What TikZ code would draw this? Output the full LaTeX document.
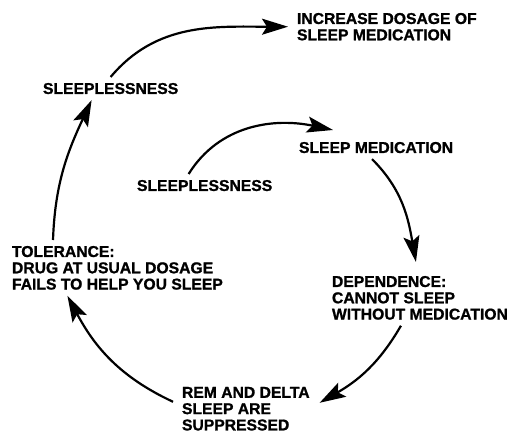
\documentclass[tikz,border=0pt]{standalone}
\usepackage{fontspec}
\setmainfont{Liberation Sans}[BoldFeatures={FakeBold=1.2}]
\usetikzlibrary{arrows.meta}

\begin{document}
\begin{tikzpicture}[x=1pt,y=-1pt,
    lbl/.style={font=\bfseries\fontsize{15.7}{16.3}\selectfont, align=left,
        anchor=north west, inner sep=0pt, outer sep=6pt},
    cyc/.style={line width=2.2pt, -{Stealth[length=26pt,width=16pt,inset=5pt]}}]

    \useasboundingbox (0,0) rectangle (511,433);

    %outer cycle labels:
    \node[lbl] (incr) at (291,7) {INCREASE DOSAGE OF\\SLEEP MEDICATION};
    \node[lbl] (sleepout) at (37,77) {SLEEPLESSNESS};
    \node[lbl] (toler) at (6,240) {TOLERANCE:\\DRUG AT USUAL DOSAGE\\FAILS TO HELP YOU SLEEP};
    %inner labels:
    \node[lbl] (sleepin) at (131,174) {SLEEPLESSNESS};
    \node[lbl] (medic) at (293,136) {SLEEP MEDICATION};
    \node[lbl] (depend) at (326,270) {DEPENDENCE:\\CANNOT SLEEP\\WITHOUT MEDICATION};
    \node[lbl] (rem) at (176,381) {REM AND DELTA\\SLEEP ARE\\SUPPRESSED};

    %draw arrows:
    \draw[cyc] ([xshift=-16pt]sleepin.north) to[out=58,in=168] ([xshift=40pt,yshift=6pt]medic.north west);
    \draw[cyc] ([xshift=-4pt]medic.south) to[out=-45,in=100] ([xshift=-4pt,yshift=8pt]depend.north);
    \draw[cyc] ([xshift=-19pt]depend.south) to[out=-120,in=30] ([xshift=4pt,yshift=6pt]rem.east);
    \draw[cyc] ([xshift=-3pt,yshift=7pt]rem.west) to[out=155,in=-62] ([xshift=-50pt]toler.south);
    \draw[cyc] ([xshift=47pt]toler.north west) to[out=88,in=-115] ([xshift=-19pt]sleepout.south);
    \draw[cyc] (sleepout.north) to[out=50,in=180] ([xshift=-3pt]incr.west);

\end{tikzpicture}
\end{document}
